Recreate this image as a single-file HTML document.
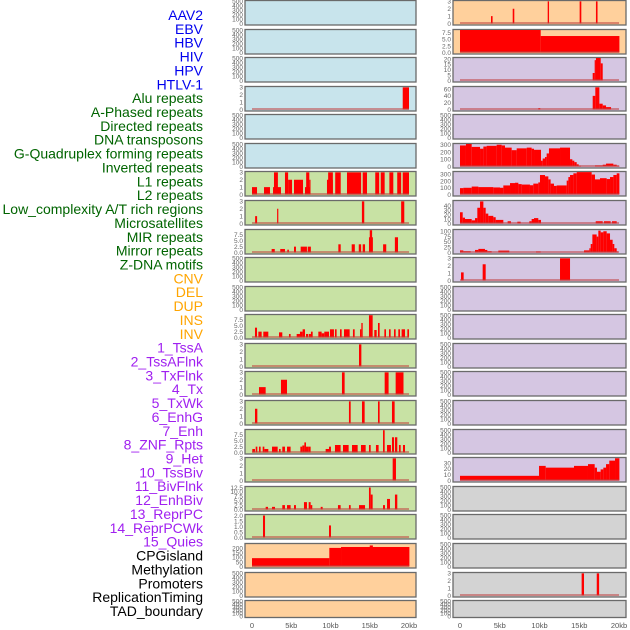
<!DOCTYPE html>
<html><head><meta charset="utf-8"><style>
html,body{margin:0;padding:0;background:#fff;}
svg{display:block;font-family:"Liberation Sans",sans-serif;}
</style></head><body>
<svg id="chart" width="630" height="630" viewBox="0 0 630 630" xmlns="http://www.w3.org/2000/svg">
<g id="labels"></g>
<g id="panels"></g>
<g id="xaxes"></g>
</svg>
<script>
// ---- track label data ----
const trackLabels = ["AAV2","EBV","HBV","HIV","HPV","HTLV-1","Alu repeats","A-Phased repeats","Directed repeats","DNA transposons","G-Quadruplex forming repeats","Inverted repeats","L1 repeats","L2 repeats","Low_complexity A/T rich regions","Microsatellites","MIR repeats","Mirror repeats","Z-DNA motifs","CNV","DEL","DUP","INS","INV","1_TssA","2_TssAFlnk","3_TxFlnk","4_Tx","5_TxWk","6_EnhG","7_Enh","8_ZNF_Rpts","9_Het","10_TssBiv","11_BivFlnk","12_EnhBiv","13_ReprPC","14_ReprPCWk","15_Quies","CPGisland","Methylation","Promoters","ReplicationTiming","TAD_boundary"];
const labelGroups = [6,13,5,15,5];
const xTickVals = [0,5,10,15,20];
const xTickLabels = ["0","5kb","10kb","15kb","20kb"];
// ---- tick sets ----
const tk500=[0,100,200,300,400,500], tk500L=["0","100","200","300","400","500"];
const tk3=[0,1,2,3], tk3L=["0","1","2","3"];
const tk75=[0,2.5,5,7.5], tk75L=["0.0","2.5","5.0","7.5"];
const tk20=[0,5,10,15,20], tk20L=["0","5","10","15","20"];
const tk60=[0,20,40,60], tk60L=["0","20","40","60"];
const tk300=[0,100,200,300], tk300L=["0","100","200","300"];
const tk40=[0,10,20,30,40], tk40L=["0","10","20","30","40"];
const tk100=[0,25,50,75,100], tk100L=["0","25","50","75","100"];
const tk30=[0,10,20,30], tk30L=["0","10","20","30"];
const tk125=[0,2.5,5,7.5,10,12.5], tk125L=["0.0","2.5","5.0","7.5","10.0","12.5"];
const tk2=[0,0.5,1,1.5,2], tk2L=["0.0","0.5","1.0","1.5","2.0"];
const tk200=[0,50,100,150,200], tk200L=["0","50","100","150","200"];
// ---- series data: [startKb, endKb, value] ----
const aluL=[[19.2,20,3]];
const l1L=[[0,0.64,1],[1.53,2.29,1],[2.68,3.69,1],[2.8,3.3,3],[4.2,4.6,3],[4.6,5.1,2],[5.35,6.5,2],[6.75,7.4,1],[6.9,7.3,3],[7.3,7.45,2],[9.55,10.3,2],[9.7,10.3,3],[10.6,11.3,3],[12.1,13.9,3],[14.1,14.65,3],[15.7,16.2,3],[16.4,16.9,3],[17.5,18,3],[18.5,19,3],[19.2,20,3]];
const l2L=[[0.4,0.65,1],[3.2,3.35,2],[14,14.3,3],[19,19.4,3]];
const mirL=[[2.5,2.9,1.5],[3.6,4.2,1.5],[4.5,4.7,1.2],[5.35,5.6,2.5],[6.2,7,2.5],[7.1,7.5,2.5],[11,11.3,3.5],[12.7,13.1,3.5],[13.6,13.9,3.5],[14.1,14.4,3.5],[14.9,15.4,6.5],[15,15.3,9.5],[16.7,17.1,3.5],[18.2,18.6,6.5]];
const insL=[[0.38,0.64,4.2],[0.81,1.23,2.5],[1.44,2.08,2.5],[3.44,3.86,2.2],[4.71,4.92,1.5],[5.69,6.11,1.5],[6.11,6.45,2.5],[6.45,6.75,3.5],[6.88,7.17,1.5],[7.26,7.51,1.5],[7.51,7.73,2.5],[8.45,8.87,2.5],[8.87,9.21,1.8],[9.21,9.81,2.5],[9.93,10.44,3.5],[10.57,10.78,3.5],[11.21,11.42,3.5],[11.72,12.44,3.5],[12.86,13.08,3.5],[13.76,13.93,3.5],[13.93,14.1,6.2],[14.9,15.37,9.5],[15.58,15.88,3.2],[16.05,16.26,6.2],[16.86,17.07,3.5],[17.45,17.66,3.5],[18.09,18.3,3.5],[18.64,18.85,3.5],[19.06,19.49,3.5],[19.79,20,3.5]];
const tssaL=[[13.63,13.93,3]];
const tssaflnkL=[[0.89,1.74,1],[3.69,4.46,2],[11.46,11.8,3],[16.9,17.4,3],[18.3,19.3,3]];
const txflnkL=[[0.38,0.68,2],[12.35,12.57,3],[14.01,14.35,3],[16.05,16.26,3],[17.83,18.17,3]];
const enhL=[[0.04,0.38,1.5],[0.47,0.68,2.5],[0.89,1.1,2.5],[1.36,1.57,2.5],[1.57,2.08,1.5],[2.55,3.27,2.5],[3.44,3.65,1.5],[3.86,4.2,2.5],[4.46,4.92,2.5],[6.16,6.41,2.5],[6.41,6.67,3],[6.67,6.88,4.3],[6.88,7.17,2.5],[7.17,7.47,2.5],[9.38,9.81,1.5],[9.81,10.06,2.5],[10.57,11.29,3.2],[11.59,12.31,3.2],[12.74,13.46,3.2],[13.88,14.48,3.2],[14.9,15.12,3.2],[15.79,16.13,3.2],[16.69,16.9,9.5],[17.2,17.7,3.2],[17.83,18.09,6.5],[18.21,18.51,6.5],[18.72,18.94,3.2],[19.23,19.49,3.2]];
const tssbivL=[[17.92,18.34,3]];
const bivflnkL=[[1.74,2.04,1.5],[2.55,2.93,1.5],[3.86,4.2,2.5],[4.46,4.92,2.5],[5.35,5.6,2.5],[6.62,7,4.2],[7.22,7.47,4.2],[7.47,7.68,2.5],[8.75,9,1.5],[10.95,11.29,2.5],[12.35,12.57,2.5],[13.63,14.4,2.5],[14.9,15.12,12.5],[15.12,15.37,8.5],[16.69,16.94,2.5],[17.2,17.58,6],[18.21,18.51,8.5]];
const enhbivL=[[1.4,1.66,2],[9.81,10.06,1.1]];
const cpgL=[[0,9.85,92],[9.85,11.34,205],[11.34,20.1,215],[15,15.4,232]];
const aav2R=[[3.9,4.1,1],[6.63,6.83,2],[11.03,11.2,3],[15.05,15.26,3],[17.1,17.3,3]];
const ebvR=[[0,10.15,8.6],[10.15,20.1,6.3]];
const hbvR=[[16.69,16.94,7],[16.94,17.1,19],[17.1,17.7,21],[17.7,17.95,16]];
const hivR=[[9.85,10.1,4],[16.69,17.02,40],[17.02,17.53,65],[17.53,17.95,17],[17.95,18.37,12],[18.37,19,7]];
const gquadR=[[0,0.75,290],[0.75,1.47,310],[1.47,2.52,270],[2.52,2.94,245],[2.94,3.35,275],[3.35,4.61,285],[4.61,5.24,300],[5.24,5.66,290],[5.66,6.5,260],[6.5,7.13,225],[7.13,8.39,250],[8.39,9.01,260],[9.01,9.31,245],[9.31,10.19,230],[10.19,10.4,80],[10.4,10.69,110],[10.69,10.9,130],[10.9,11.19,180],[11.19,12.58,250],[12.58,13.84,260],[13.84,14.13,100],[14.13,14.38,80],[14.38,14.68,60],[14.68,14.93,30],[14.93,15.22,10],[16.98,17.95,15],[17.95,18.37,25],[18.37,19.29,40],[19.29,19.71,25],[19.71,20.1,10]];
const invR=[[0,0.42,95],[0.42,1.47,100],[1.47,2.31,118],[2.31,4.19,110],[4.19,5.03,105],[5.03,5.45,100],[5.45,6.29,135],[6.29,6.92,170],[6.92,7.34,175],[7.34,7.76,155],[7.76,8.8,148],[8.8,9.22,138],[9.22,9.85,162],[9.85,10.06,180],[10.06,10.69,290],[10.69,11.11,270],[11.11,11.4,225],[11.4,11.82,162],[11.82,12.16,128],[12.16,13.42,135],[13.42,13.63,207],[13.63,13.84,260],[13.84,14.26,290],[14.26,14.68,315],[14.68,16.56,333],[16.56,16.98,297],[16.98,17.61,225],[17.61,18.45,243],[18.45,18.87,230],[18.87,19.29,260],[19.29,19.71,290],[19.71,20.1,315]];
const l1R=[[0,0.34,25],[0.34,0.63,13],[0.63,1.47,10],[1.47,1.89,7],[1.89,2.18,12],[2.18,2.52,35],[2.52,2.94,49],[2.94,3.23,35],[3.23,3.56,22],[3.56,4.19,17],[4.19,4.49,14],[4.49,5.45,8],[5.99,6.41,5],[7.21,7.63,4],[8.72,9.01,5],[9.01,9.31,10],[9.31,9.85,12],[9.85,10.19,8],[17.07,17.95,5],[18.11,18.95,5],[19.12,19.71,5]];
const l2R=[[0,0.42,10],[0.42,1.34,6],[1.89,2.31,12],[2.31,3.14,17],[3.14,3.44,12],[3.44,3.98,6],[4.82,6.2,9],[9.56,10.15,5],[15.6,16.27,10],[16.27,16.44,20],[16.44,16.65,40],[16.65,17.19,85],[17.19,17.4,75],[17.4,17.69,103],[17.69,18.03,95],[18.03,18.45,100],[18.45,18.87,90],[18.87,19.2,60],[19.2,19.41,40],[19.41,19.71,20],[19.71,19.83,5]];
const lowcR=[[0.13,0.46,1.1],[2.85,3.23,2.2],[12.58,13.84,3]];
const tssbivR=[[0,9.94,8],[9.94,10.78,25],[10.78,14.34,22],[14.34,16.1,25],[16.1,16.94,28],[16.94,17.23,22],[17.23,17.69,15],[17.69,18.03,19],[18.03,18.37,22],[18.37,18.78,28],[18.78,19.5,34],[19.5,20.1,38]];
const promR=[[15.3,15.6,3],[17.2,17.5,3]];

const BLUE="#c8e4ec", GREEN="#c8e2a4", PEACH="#ffd09c", PURP="#d5c6e2", GRAY="#d3d3d3";
const rowTops=[0,29,57,86,114,143,171,200,229,257,286,314,343,371,400,429,457,486,514,543,572,600];
// left column: [bg, data, ymax, ticks, tickLabels]
const leftCol=[
[BLUE,null,500,tk500,tk500L],[BLUE,null,500,tk500,tk500L],[BLUE,null,500,tk500,tk500L],
[BLUE,aluL,3.05,tk3,tk3L],[BLUE,null,500,tk500,tk500L],[BLUE,null,500,tk500,tk500L],
[GREEN,l1L,3.05,tk3,tk3L],[GREEN,l2L,3.05,tk3,tk3L],[GREEN,mirL,9.6,tk75,tk75L],
[GREEN,null,500,tk500,tk500L],[GREEN,null,500,tk500,tk500L],[GREEN,insL,9.6,tk75,tk75L],
[GREEN,tssaL,3.05,tk3,tk3L],[GREEN,tssaflnkL,3.05,tk3,tk3L],[GREEN,txflnkL,3.05,tk3,tk3L],
[GREEN,enhL,9.6,tk75,tk75L],[GREEN,tssbivL,3.05,tk3,tk3L],[GREEN,bivflnkL,12.8,tk125,tk125L],
[GREEN,enhbivL,2.05,tk2,tk2L],[PEACH,cpgL,248,tk200,tk200L],[PEACH,null,500,tk500,tk500L],[PEACH,null,500,tk500,tk500L]];
const rightCol=[
[PEACH,aav2R,3.05,tk3,tk3L],[PEACH,ebvR,8.6,tk75,tk75L],[PURP,hbvR,21,tk20,tk20L],
[PURP,hivR,66,tk60,tk60L],[PURP,null,500,tk500,tk500L],[PURP,gquadR,310,tk300,tk300L],
[PURP,invR,335,tk300,tk300L],[PURP,l1R,50,tk40,tk40L],[PURP,l2R,106,tk100,tk100L],
[PURP,lowcR,3.05,tk3,tk3L],[PURP,null,500,tk500,tk500L],[PURP,null,500,tk500,tk500L],
[PURP,null,500,tk500,tk500L],[PURP,null,500,tk500,tk500L],[PURP,null,500,tk500,tk500L],
[PURP,null,500,tk500,tk500L],[PURP,tssbivR,38.5,tk30,tk30L],[GRAY,null,500,tk500,tk500L],
[GRAY,null,500,tk500,tk500L],[GRAY,null,500,tk500,tk500L],[GRAY,promR,3.05,tk3,tk3L],[GRAY,null,500,tk500,tk500L]];

const NS="http://www.w3.org/2000/svg";
function mk(tag,attrs,parent){const e=document.createElementNS(NS,tag);for(const k in attrs)e.setAttribute(k,attrs[k]);parent.appendChild(e);return e;}

// labels
const labelColors=["#0000ee","#006400","#ffa500","#a020f0","#000000"];
const lg=document.getElementById('labels');
let gi=0,cnt=0;
trackLabels.forEach((t,i)=>{
  while(cnt>=labelGroups[gi]){gi++;cnt=0;}
  cnt++;
  const tx=mk('text',{x:203,y:(15+i*13.86+5).toFixed(2),'text-anchor':'end','font-size':'14',fill:labelColors[gi]},lg);
  
  
  tx.textContent=t;
});

const pg=document.getElementById('panels');
function drawCol(col,boxX,boxW,x0,x1,side){
  const xs=kb=>x0+kb/20*(x1-x0);
  col.forEach((p,i)=>{
    const top=rowTops[i];
    const last=(i===rowTops.length-1);
    const h=last?17:24.5;
    const yb=top+h-1, yt=top+1;
    const ys=v=>yb-v/p[2]*(yb-yt);
    const g=mk('g',{},pg);
    
    
    const r=mk('rect',{x:boxX,y:top+0.5,width:boxW,height:h,fill:p[0],stroke:'#6a6a6a','stroke-width':1.3},g);
    
    
    p[3].forEach((tv,k)=>{
      const tt=mk('text',{x:boxX-2,y:(ys(tv)+2.3).toFixed(2),'text-anchor':'end','font-size':'6.5',fill:'#666'},g);
      
      
      tt.textContent=p[4][k];
    });
    if(p[1]){
      p[1].forEach(s=>{
        const a=xs(s[0]),b=xs(Math.min(s[1],20.05));
        const bar=mk('rect',{x:a.toFixed(2),y:ys(s[2]).toFixed(2),width:Math.max(1.2,b-a).toFixed(2),height:(yb-ys(s[2])).toFixed(2),fill:'#ff0000'},g);
        
        
      });
      const bl=mk('line',{x1:xs(0),x2:xs(20),y1:yb-0.5,y2:yb-0.5,stroke:'#c04040','stroke-width':1.5,opacity:0.7},g);
      
      
    }
  });
  const xg=document.getElementById('xaxes');
  xTickVals.forEach((v,k)=>{
    const t=mk('text',{x:xs(v),y:628,'text-anchor':'middle','font-size':'7.5',fill:'#555'},xg);
    
    
    t.textContent=xTickLabels[k];
  });
}
drawCol(leftCol,245,171,252,409,'left');
drawCol(rightCol,453,173,460,619,'right');
</script>
</body></html>
